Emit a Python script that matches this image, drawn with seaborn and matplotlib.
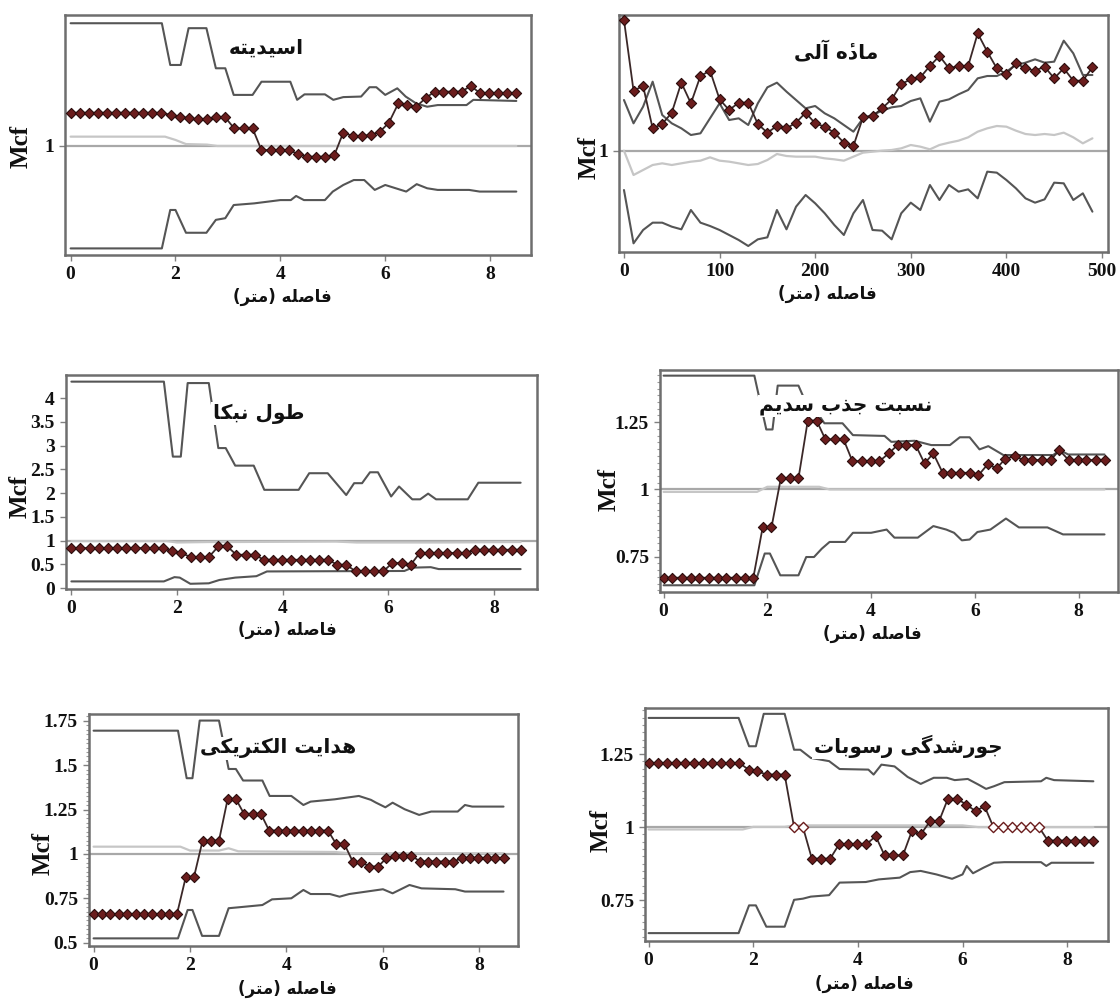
import numpy as np
import matplotlib
matplotlib.use("Agg")
import matplotlib.pyplot as plt
import seaborn as sns
from matplotlib.ticker import MultipleLocator

# Set style
sns.set_theme(style="white")
plt.rcParams['font.family'] = ['Liberation Serif', 'DejaVu Sans']
plt.rcParams['font.weight'] = 'bold'
plt.rcParams['axes.unicode_minus'] = False

# Data: lags (m) and Mcf curves
REF_LEVEL = 1.0

lags_m = [0, 0.17, 0.35, 0.52, 0.69, 0.87, 1.04, 1.21, 1.39, 1.56, 1.73, 1.91, 2.08, 2.26, 2.43,
          2.60, 2.78, 2.95, 3.12, 3.30, 3.47, 3.64, 3.82, 3.99, 4.16, 4.34, 4.51, 4.68, 4.86, 5.03,
          5.20, 5.38, 5.55, 5.72, 5.90, 6.07, 6.25, 6.42, 6.59, 6.77, 6.94, 7.11, 7.29, 7.46, 7.63,
          7.81, 7.98, 8.15, 8.33, 8.50]
lags_om = [0, 10, 20, 30, 40, 50, 60, 70, 80, 90, 100, 110, 120, 130, 140, 150, 160, 170, 180, 190,
           200, 210, 220, 230, 240, 250, 260, 270, 280, 290, 300, 310, 320, 330, 340, 350, 360, 370,
           380, 390, 400, 410, 420, 430, 440, 450, 460, 470, 480, 490]

# acidity (pH)
acid_obs = [1.121, 1.121, 1.121, 1.121, 1.121, 1.121, 1.121, 1.121, 1.121, 1.121, 1.121,
            1.113, 1.107, 1.101, 1.097, 1.097, 1.104, 1.104, 1.064, 1.064, 1.064,
            0.985, 0.985, 0.985, 0.985, 0.971, 0.961, 0.961, 0.961, 0.967,
            1.049, 1.036, 1.036, 1.040, 1.052, 1.085, 1.155, 1.149, 1.143, 1.174,
            1.198, 1.198, 1.198, 1.198, 1.219, 1.192, 1.192, 1.192, 1.192, 1.192]
acid_up_x = [0, 1.74, 1.9, 2.1, 2.25, 2.59, 2.77, 2.95, 3.11, 3.47, 3.64, 4.19, 4.32, 4.46, 4.85,
             5.01, 5.2, 5.54, 5.7, 5.83, 6.0, 6.23, 6.39, 6.59, 6.8, 7.0, 7.55, 7.68, 8.5]
acid_up = [1.447, 1.447, 1.295, 1.295, 1.429, 1.429, 1.283, 1.283, 1.186, 1.186, 1.234, 1.234,
           1.168, 1.188, 1.188, 1.168, 1.178, 1.18, 1.214, 1.214, 1.186, 1.21, 1.18, 1.155, 1.143,
           1.149, 1.149, 1.168, 1.164]
acid_lo_x = [0, 1.74, 1.9, 2.0, 2.2, 2.59, 2.77, 2.95, 3.11, 3.5, 4.0, 4.2, 4.3, 4.45, 4.85, 5.0,
             5.2, 5.4, 5.6, 5.8, 6.0, 6.2, 6.4, 6.6, 6.8, 7.0, 7.6, 7.8, 8.5]
acid_lo = [0.627, 0.627, 0.767, 0.767, 0.684, 0.684, 0.731, 0.737, 0.785, 0.791, 0.803, 0.803,
           0.818, 0.803, 0.803, 0.834, 0.858, 0.876, 0.876, 0.84, 0.858, 0.846, 0.834, 0.861, 0.846,
           0.84, 0.84, 0.834, 0.834]
acid_mean_x = [0, 1.8, 2.0, 2.2, 2.6, 2.8, 8.5]
acid_mean = [1.034, 1.034, 1.022, 1.007, 1.005, 1.0, 1.0]

# organic matter
om_obs = [1.784, 1.36, 1.388, 1.134, 1.16, 1.228, 1.408, 1.284, 1.448, 1.48,
          1.308, 1.244, 1.288, 1.288, 1.16, 1.108, 1.148, 1.134, 1.168, 1.228,
          1.164, 1.144, 1.108, 1.048, 1.028, 1.2, 1.208, 1.254, 1.308, 1.4,
          1.428, 1.44, 1.508, 1.568, 1.494, 1.508, 1.508, 1.704, 1.594, 1.494,
          1.46, 1.524, 1.494, 1.48, 1.504, 1.434, 1.494, 1.42, 1.42, 1.5]
om_up = [1.304, 1.164, 1.264, 1.414, 1.214, 1.164, 1.134, 1.094, 1.104, 1.194,
         1.284, 1.184, 1.194, 1.154, 1.284, 1.38, 1.408, 1.354, 1.304, 1.254,
         1.268, 1.224, 1.194, 1.154, 1.114, 1.194, 1.214, 1.24, 1.26, 1.268,
         1.298, 1.314, 1.174, 1.294, 1.308, 1.338, 1.364, 1.434, 1.448, 1.448,
         1.474, 1.514, 1.528, 1.548, 1.528, 1.534, 1.66, 1.584, 1.454, 1.454]
om_lo = [0.764, 0.444, 0.524, 0.568, 0.568, 0.544, 0.528, 0.644, 0.568, 0.548,
         0.524, 0.494, 0.464, 0.428, 0.468, 0.48, 0.644, 0.528, 0.664, 0.734,
         0.684, 0.624, 0.554, 0.494, 0.624, 0.704, 0.524, 0.52, 0.468, 0.624,
         0.688, 0.644, 0.794, 0.704, 0.794, 0.754, 0.768, 0.714, 0.874, 0.868,
         0.824, 0.774, 0.714, 0.688, 0.708, 0.808, 0.804, 0.704, 0.744, 0.634]
om_mean = [1.0, 0.854, 0.884, 0.914, 0.924, 0.914, 0.924, 0.934, 0.94, 0.96,
           0.94, 0.934, 0.924, 0.914, 0.92, 0.944, 0.98, 0.968, 0.964, 0.964,
           0.964, 0.954, 0.948, 0.94, 0.964, 0.988, 0.994, 1.0, 1.004, 1.014,
           1.034, 1.024, 1.008, 1.034, 1.048, 1.06, 1.08, 1.114, 1.134, 1.148,
           1.144, 1.12, 1.1, 1.094, 1.1, 1.094, 1.108, 1.08, 1.044, 1.074]

# nebkha length
neb_obs = [0.842, 0.842, 0.842, 0.842, 0.842, 0.842, 0.842, 0.842, 0.842, 0.842, 0.842,
           0.772, 0.737, 0.653, 0.653, 0.653, 0.877, 0.877, 0.702, 0.702, 0.702,
           0.596, 0.596, 0.596, 0.596, 0.596, 0.596, 0.596, 0.596, 0.491, 0.491,
           0.351, 0.351, 0.351, 0.351, 0.526, 0.526, 0.491,
           0.737, 0.737, 0.737, 0.737, 0.737, 0.737, 0.807, 0.807, 0.807, 0.807, 0.807, 0.807]
neb_up_x = [0, 1.75, 1.92, 2.07, 2.2, 2.6, 2.78, 2.92, 3.1, 3.45, 3.65, 4.3, 4.5, 4.85, 5.2, 5.35,
            5.5, 5.65, 5.8, 6.05, 6.2, 6.45, 6.6, 6.75, 6.9, 7.5, 7.7, 8.5]
neb_up = [4.35, 4.35, 2.77, 2.77, 4.32, 4.32, 2.95, 2.95, 2.58, 2.58, 2.07, 2.07, 2.42, 2.42, 1.96,
          2.21, 2.21, 2.44, 2.44, 1.93, 2.14, 1.87, 1.87, 1.99, 1.87, 1.87, 2.22, 2.22]
neb_lo_x = [0, 1.75, 1.95, 2.05, 2.25, 2.6, 2.8, 3.1, 3.5, 3.7, 6.3, 6.45, 6.8, 6.95, 8.5]
neb_lo = [0.14, 0.14, 0.23, 0.22, 0.09, 0.10, 0.17, 0.22, 0.25, 0.35, 0.36, 0.43, 0.44, 0.40, 0.40]
neb_mean_x = [0, 1.8, 2.0, 2.6, 3.0, 5.0, 5.4, 7.0, 8.5]
neb_mean = [0.99, 0.99, 0.96, 0.97, 0.97, 0.98, 0.96, 0.96, 0.97]

# sodium adsorption ratio
sar_obs = [0.672, 0.672, 0.672, 0.672, 0.672, 0.672, 0.672, 0.672, 0.672, 0.672, 0.672,
           0.859, 0.859, 1.041, 1.041, 1.041, 1.256, 1.256, 1.186, 1.186, 1.186,
           1.105, 1.105, 1.105, 1.105, 1.134, 1.165, 1.165, 1.165, 1.097, 1.134,
           1.062, 1.062, 1.062, 1.062, 1.053, 1.094, 1.078, 1.115, 1.124,
           1.109, 1.109, 1.109, 1.109, 1.146, 1.109, 1.109, 1.109, 1.109, 1.109]
sar_up_x = [0, 1.75, 1.98, 2.1, 2.2, 2.6, 2.75, 2.95, 3.1, 3.45, 3.65, 4.26, 4.39, 4.84, 5.16,
            5.52, 5.71, 5.9, 6.09, 6.26, 6.55, 7.51, 7.64, 7.8, 8.5]
sar_up = [1.423, 1.423, 1.223, 1.223, 1.386, 1.386, 1.32, 1.289, 1.246, 1.246, 1.202, 1.199,
          1.177, 1.181, 1.165, 1.165, 1.194, 1.194, 1.149, 1.161, 1.128, 1.128, 1.146, 1.13, 1.13]
sar_lo_x = [0, 1.75, 1.95, 2.05, 2.25, 2.6, 2.75, 2.9, 3.05, 3.2, 3.5, 3.65, 4.0, 4.3, 4.45, 4.9,
            5.2, 5.45, 5.6, 5.75, 5.9, 6.05, 6.3, 6.6, 6.85, 7.4, 7.7, 8.5]
sar_lo = [0.644, 0.644, 0.762, 0.762, 0.681, 0.681, 0.749, 0.749, 0.78, 0.805, 0.805, 0.839,
          0.839, 0.851, 0.821, 0.821, 0.864, 0.851, 0.839, 0.811, 0.814, 0.842, 0.851, 0.892,
          0.859, 0.859, 0.833, 0.833]
sar_mean_x = [0, 1.8, 2.0, 3.0, 3.2, 8.5]
sar_mean = [0.991, 0.991, 1.01, 1.01, 1.0, 1.0]

# electrical conductivity
ec_obs = [0.662, 0.662, 0.662, 0.662, 0.662, 0.662, 0.662, 0.662, 0.662, 0.662, 0.662,
          0.868, 0.868, 1.075, 1.075, 1.075, 1.31, 1.31, 1.226, 1.226, 1.226,
          1.132, 1.132, 1.132, 1.132, 1.132, 1.132, 1.132, 1.132, 1.056, 1.056,
          0.953, 0.953, 0.929, 0.929, 0.976, 0.991, 0.991, 0.991,
          0.957, 0.957, 0.957, 0.957, 0.957, 0.976, 0.976, 0.976, 0.976, 0.976, 0.976]
ec_up_x = [0, 1.75, 1.93, 2.05, 2.2, 2.6, 2.8, 2.95, 3.1, 3.5, 3.65, 4.1, 4.35, 4.5, 5.0, 5.5,
           5.75, 5.85, 6.05, 6.2, 6.45, 6.75, 7.0, 7.55, 7.7, 7.85, 8.5]
ec_up = [1.695, 1.695, 1.427, 1.427, 1.752, 1.752, 1.479, 1.479, 1.414, 1.414, 1.327, 1.327,
         1.276, 1.295, 1.308, 1.327, 1.305, 1.29, 1.263, 1.289, 1.252, 1.22, 1.239, 1.239, 1.276,
         1.267, 1.267]
ec_lo_x = [0, 1.75, 1.95, 2.05, 2.25, 2.6, 2.8, 3.0, 3.5, 3.7, 4.1, 4.35, 4.5, 4.9, 5.1, 5.3, 6.0,
           6.2, 6.55, 6.8, 7.5, 7.7, 8.5]
ec_lo = [0.524, 0.524, 0.684, 0.684, 0.538, 0.538, 0.694, 0.699, 0.712, 0.744, 0.75, 0.797,
         0.774, 0.774, 0.759, 0.774, 0.801, 0.778, 0.825, 0.806, 0.801, 0.788, 0.788]
ec_mean_x = [0, 1.8, 2.0, 2.6, 2.8, 3.0, 5.0, 5.3, 8.5]
ec_mean = [1.041, 1.041, 1.019, 1.019, 1.032, 1.015, 1.011, 1.004, 1.004]

# sediment sorting
sort_obs = [1.22, 1.22, 1.22, 1.22, 1.22, 1.22, 1.22, 1.22, 1.22, 1.22, 1.22,
            1.197, 1.191, 1.18, 1.18, 1.18, 1.0, 1.0, 0.892, 0.892, 0.892,
            0.941, 0.941, 0.941, 0.941, 0.969, 0.903, 0.903, 0.903, 0.986, 0.975,
            1.02, 1.02, 1.097, 1.097, 1.077, 1.055, 1.072,
            1.0, 1.0, 1.0, 1.0, 1.0, 1.0, 0.954, 0.954, 0.954, 0.954, 0.954, 0.954]
sort_up_x = [0, 1.72, 1.92, 2.05, 2.2, 2.6, 2.78, 2.9, 3.1, 3.45, 3.65, 4.2, 4.3, 4.45, 4.7, 4.95,
             5.2, 5.45, 5.7, 5.85, 6.1, 6.3, 6.45, 6.6, 6.8, 7.5, 7.6, 7.75, 8.5]
sort_up = [1.374, 1.374, 1.277, 1.277, 1.388, 1.388, 1.265, 1.265, 1.237, 1.226, 1.199, 1.197,
           1.18, 1.214, 1.208, 1.172, 1.148, 1.169, 1.169, 1.161, 1.165, 1.146, 1.131, 1.14,
           1.154, 1.157, 1.169, 1.161, 1.157]
sort_lo_x = [0, 1.72, 1.92, 2.05, 2.25, 2.6, 2.78, 2.95, 3.1, 3.45, 3.65, 4.15, 4.4, 4.8, 5.0,
             5.2, 5.5, 5.8, 6.0, 6.08, 6.2, 6.4, 6.6, 6.8, 7.5, 7.6, 7.7, 8.5]
sort_lo = [0.637, 0.637, 0.732, 0.732, 0.659, 0.659, 0.751, 0.755, 0.762, 0.767, 0.81, 0.812,
           0.821, 0.827, 0.846, 0.85, 0.838, 0.823, 0.838, 0.867, 0.842, 0.861, 0.878, 0.88,
           0.88, 0.867, 0.878, 0.878]
sort_mean_x = [0, 1.8, 2.0, 2.6, 2.8, 6.0, 6.3, 8.5]
sort_mean = [0.992, 0.992, 1.001, 1.001, 1.006, 1.006, 1.0, 1.0]

# Labels
titles = ['اسیدیته', 'مادهٔ آلی', 'طول نبکا', 'نسبت جذب سدیم', 'هدایت الکتریکی', 'جورشدگی رسوبات']
x_label = 'فاصله (متر)'
y_label = 'Mcf'
xticks_m = [0, 2, 4, 6, 8]
xticks_om = [0, 100, 200, 300, 400, 500]
yticks_one = [1]
yticks_neb = [0, 0.5, 1, 1.5, 2, 2.5, 3, 3.5, 4]
yticks_neb_labels = ['0', '0.5', '1', '1.5', '2', '2.5', '3', '3.5', '4']
yticks_quarter = [0.75, 1, 1.25]
yticks_quarter_labels = ['0.75', '1', '1.25']
yticks_ec = [0.5, 0.75, 1, 1.25, 1.5, 1.75]
yticks_ec_labels = ['0.5', '0.75', '1', '1.25', '1.5', '1.75']


# Persian shaping (matplotlib has no bidi / contextual shaping)
FORMS = {
    'ا': ('\uFE8D', '\uFE8E', None, None),
    'آ': ('\uFE81', '\uFE82', None, None),
    'ب': ('\uFE8F', '\uFE90', '\uFE91', '\uFE92'),
    'ت': ('\uFE95', '\uFE96', '\uFE97', '\uFE98'),
    'ج': ('\uFE9D', '\uFE9E', '\uFE9F', '\uFEA0'),
    'د': ('\uFEA9', '\uFEAA', None, None),
    'ذ': ('\uFEAB', '\uFEAC', None, None),
    'ر': ('\uFEAD', '\uFEAE', None, None),
    'س': ('\uFEB1', '\uFEB2', '\uFEB3', '\uFEB4'),
    'ش': ('\uFEB5', '\uFEB6', '\uFEB7', '\uFEB8'),
    'ص': ('\uFEB9', '\uFEBA', '\uFEBB', '\uFEBC'),
    'ط': ('\uFEC1', '\uFEC2', '\uFEC3', '\uFEC4'),
    'ف': ('\uFED1', '\uFED2', '\uFED3', '\uFED4'),
    'ل': ('\uFEDD', '\uFEDE', '\uFEDF', '\uFEE0'),
    'م': ('\uFEE1', '\uFEE2', '\uFEE3', '\uFEE4'),
    'ن': ('\uFEE5', '\uFEE6', '\uFEE7', '\uFEE8'),
    'ه': ('\uFEE9', '\uFEEA', '\uFEEB', '\uFEEC'),
    'و': ('\uFEED', '\uFEEE', None, None),
    'ی': ('\uFBFC', '\uFBFD', '\uFBFE', '\uFBFF'),
    'ک': ('\uFB8E', '\uFB8F', '\uFB90', '\uFB91'),
    'گ': ('\uFB92', '\uFB93', '\uFB94', '\uFB95'),
    # heh with yeh above: heh form followed by the combining hamza
    '\u06C0': ('\uFEE9\u0654', '\uFEEA\u0654', None, None),
}


def farsi(text):
    text = text.replace('\u0647\u0654', '\u06C0').replace('\u064A', 'ی').replace('\u0643', 'ک')
    out = []
    for i, ch in enumerate(text):
        forms = FORMS.get(ch)
        if forms is None:
            out.append(ch)
            continue
        prev = text[i - 1] if i > 0 else ''
        nxt = text[i + 1] if i + 1 < len(text) else ''
        join_prev = prev in FORMS and FORMS[prev][2] is not None
        join_next = forms[2] is not None and nxt in FORMS
        if join_prev and join_next:
            out.append(forms[3])
        elif join_prev:
            out.append(forms[1])
        elif join_next:
            out.append(forms[2])
        else:
            out.append(forms[0])
    vis = ''.join(reversed(out))
    return vis.translate(str.maketrans('()', ')('))


FA_FONT = ['DejaVu Sans']

fig = plt.figure(figsize=(11.2, 10), dpi=100)


def px_axes(x0, y0, x1, y1):
    return fig.add_axes([x0 / 1120, 1 - y1 / 1000, (x1 - x0) / 1120, (y1 - y0) / 1000])


panels = [
    dict(box=(65, 15, 531, 255), x=lags_m, obs=acid_obs, up=(acid_up_x, acid_up), lo=(acid_lo_x, acid_lo),
         mean=(acid_mean_x, acid_mean), xlim=(-0.107, 8.78), ylim=(0.603, 1.477), xt=xticks_m,
         yt=yticks_one, ytl=['1'], minor=None, title=titles[0], t_xy=(0.433, 0.862),
         yl_xy=(-0.094, 0.45), xl_xy=(0.466, -0.175)),
    dict(box=(619, 15, 1108, 252), x=lags_om, obs=om_obs, up=(lags_om, om_up), lo=(lags_om, om_lo),
         mean=(lags_om, om_mean), xlim=(-5.2, 506.3), ylim=(0.392, 1.814), xt=xticks_om,
         yt=yticks_one, ytl=['1'], minor=None, title=titles[1], t_xy=(0.444, 0.844),
         yl_xy=(-0.062, 0.40), xl_xy=(0.427, -0.175)),
    dict(box=(66, 375, 537, 589), x=lags_m, obs=neb_obs, up=(neb_up_x, neb_up), lo=(neb_lo_x, neb_lo),
         mean=(neb_mean_x, neb_mean), xlim=(-0.102, 8.81), ylim=(-0.02, 4.49), xt=xticks_m,
         yt=yticks_neb, ytl=yticks_neb_labels, minor=None, title=titles[2], t_xy=(0.409, 0.818),
         yl_xy=(-0.098, 0.43), xl_xy=(0.469, -0.19)),
    dict(box=(660, 370, 1118, 592), x=lags_m, obs=sar_obs, up=(sar_up_x, sar_up), lo=(sar_lo_x, sar_lo),
         mean=(sar_mean_x, sar_mean), xlim=(-0.069, 8.76), ylim=(0.619, 1.444), xt=xticks_m,
         yt=yticks_quarter, ytl=yticks_quarter_labels, minor=0.025, title=titles[3], t_xy=(0.406, 0.838),
         yl_xy=(-0.11, 0.46), xl_xy=(0.463, -0.188)),
    dict(box=(89, 714, 518, 946), x=lags_m, obs=ec_obs, up=(ec_up_x, ec_up), lo=(ec_lo_x, ec_lo),
         mean=(ec_mean_x, ec_mean), xlim=(-0.095, 8.80), ylim=(0.481, 1.789), xt=xticks_m,
         yt=yticks_ec, ytl=yticks_ec_labels, minor=0.025, title=titles[4], t_xy=(0.441, 0.853),
         yl_xy=(-0.107, 0.40), xl_xy=(0.462, -0.183)),
    dict(box=(645, 708, 1108, 941), x=lags_m, obs=sort_obs, up=(sort_up_x, sort_up), lo=(sort_lo_x, sort_lo),
         mean=(sort_mean_x, sort_mean), xlim=(-0.069, 8.78), ylim=(0.61, 1.408), xt=xticks_m,
         yt=yticks_quarter, ytl=yticks_quarter_labels, minor=0.025, title=titles[5], t_xy=(0.568, 0.837),
         yl_xy=(-0.095, 0.476), xl_xy=(0.473, -0.183)),
]

for p in panels:
    ax = px_axes(*p['box'])
    ax.axhline(REF_LEVEL, color='#a8a8a8', lw=1.6, zorder=1)
    sns.lineplot(x=p['mean'][0], y=p['mean'][1], ax=ax, color='#c6c6c6', lw=1.6,
                 sort=False, estimator=None, zorder=2)
    sns.lineplot(x=p['up'][0], y=p['up'][1], ax=ax, color='#555555', lw=1.5,
                 sort=False, estimator=None, zorder=3)
    sns.lineplot(x=p['lo'][0], y=p['lo'][1], ax=ax, color='#555555', lw=1.5,
                 sort=False, estimator=None, zorder=3)
    sns.lineplot(x=p['x'], y=p['obs'], ax=ax, color='#3b2828', lw=1.3,
                 sort=False, estimator=None, zorder=4)
    xs = np.array(p['x'], dtype=float)
    ys = np.array(p['obs'], dtype=float)
    hollow = ys == REF_LEVEL
    sns.scatterplot(x=xs[~hollow], y=ys[~hollow], ax=ax, marker='D', s=27, color='#6b1d1d',
                    edgecolor='#2a0c0c', linewidth=0.8, zorder=5)
    if hollow.any():
        sns.scatterplot(x=xs[hollow], y=ys[hollow], ax=ax, marker='D', s=27, color='white',
                        edgecolor='#6b1d1d', linewidth=1.0, zorder=5)

    ax.set_xlim(*p['xlim'])
    ax.set_ylim(*p['ylim'])
    ax.set_xticks(p['xt'])
    ax.set_xticklabels([str(t) for t in p['xt']])
    ax.set_yticks(p['yt'])
    ax.set_yticklabels(p['ytl'])
    if p['minor']:
        ax.yaxis.set_minor_locator(MultipleLocator(p['minor']))
        ax.tick_params(axis='y', which='minor', left=True, length=2, width=0.8, color='#9a9a9a')
    ax.tick_params(axis='both', which='major', bottom=True, left=True, direction='out',
                   length=4, width=1, color='#808080', labelsize=14, pad=4, labelcolor='#111111')
    for s in ax.spines.values():
        s.set_color('#6e6e6e')
        s.set_linewidth(1.8)

    ax.set_ylabel(y_label, fontsize=18, fontweight='bold', color='#111111')
    ax.yaxis.set_label_coords(*p['yl_xy'])
    ax.yaxis.label.set_verticalalignment('center')
    ax.set_xlabel(farsi(x_label), fontsize=12, fontweight='bold', family=FA_FONT, color='#111111')
    ax.xaxis.set_label_coords(*p['xl_xy'])
    ax.xaxis.label.set_verticalalignment('center')

    ax.text(p['t_xy'][0], p['t_xy'][1], farsi(p['title']), transform=ax.transAxes,
            ha='center', va='center', fontsize=14.5, fontweight='bold', family=FA_FONT,
            color='#111111', zorder=6,
            bbox=dict(facecolor='white', edgecolor='none', pad=1.0))

fig.savefig('out.png', dpi=100, facecolor='white')
